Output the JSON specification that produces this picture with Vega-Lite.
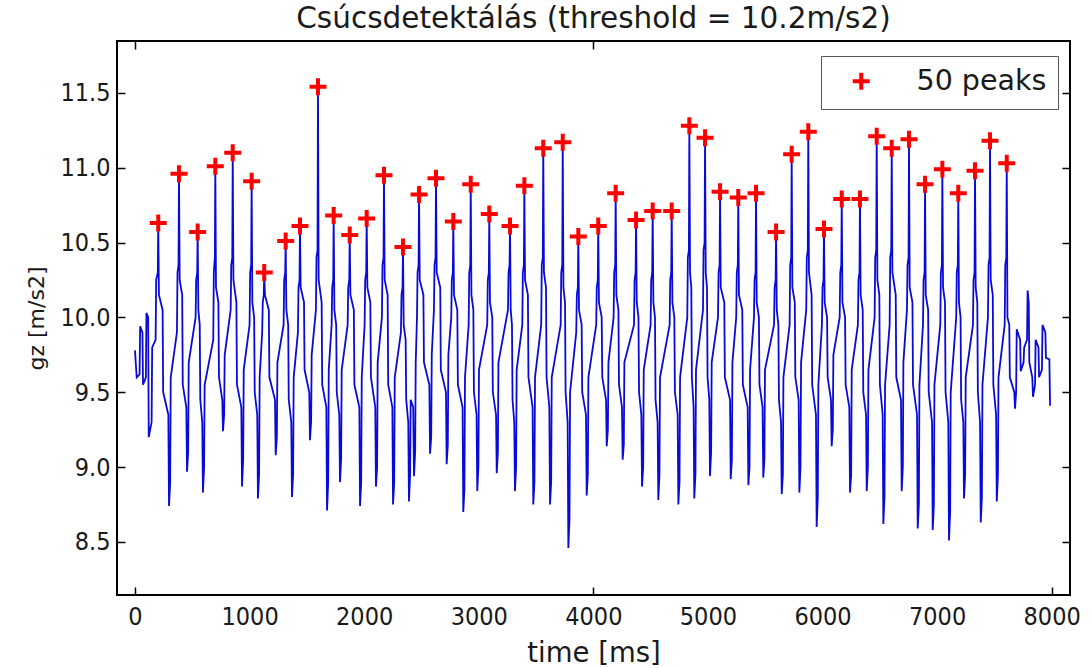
{
  "$schema": "https://vega.github.io/schema/vega-lite/v6.json",
  "width": 953,
  "height": 554,
  "autosize": {"type": "none"},
  "padding": {"left": 117, "top": 41, "right": 22, "bottom": 73},
  "background": "white",
  "title": {
    "text": "Csúcsdetektálás (threshold = 10.2m/s2)",
    "font": "DejaVu Sans",
    "fontSize": 29.5,
    "fontWeight": "normal",
    "color": "#1a1a1a",
    "anchor": "middle",
    "baseline": "alphabetic",
    "offset": -17
  },
  "config": {
    "font": "DejaVu Sans",
    "view": {"stroke": "#000000", "strokeWidth": 2}
  },
  "datasets": {
    "signal": [
      {"t": 0, "g": 9.78}, {"t": 8, "g": 9.68}, {"t": 15, "g": 9.60}, {"t": 40, "g": 9.62}, {"t": 45, "g": 9.94}, {"t": 65, "g": 9.90}, {"t": 70, "g": 9.55}, {"t": 95, "g": 9.60}, {"t": 100, "g": 10.03}, {"t": 115, "g": 10.00}, {"t": 120, "g": 9.20}, {"t": 145, "g": 9.30}, {"t": 150, "g": 9.80}, {"t": 180, "g": 9.85}, {"t": 185, "g": 10.25}, {"t": 199, "g": 10.30},
      {"t": 203, "g": 10.63}, {"t": 209, "g": 10.15}, {"t": 241, "g": 10.05}, {"t": 246, "g": 9.50}, {"t": 291, "g": 9.35}, {"t": 297, "g": 8.74}, {"t": 307, "g": 8.90}, {"t": 312, "g": 9.60}, {"t": 366, "g": 9.90}, {"t": 371, "g": 10.30}, {"t": 380, "g": 10.35},
      {"t": 384, "g": 10.96}, {"t": 390, "g": 10.25}, {"t": 412, "g": 10.15}, {"t": 417, "g": 9.55}, {"t": 448, "g": 9.40}, {"t": 454, "g": 8.97}, {"t": 464, "g": 9.10}, {"t": 469, "g": 9.70}, {"t": 529, "g": 10.00}, {"t": 534, "g": 10.25}, {"t": 543, "g": 10.30},
      {"t": 547, "g": 10.57}, {"t": 553, "g": 10.05}, {"t": 565, "g": 9.95}, {"t": 570, "g": 9.45}, {"t": 587, "g": 9.30}, {"t": 593, "g": 8.83}, {"t": 603, "g": 9.00}, {"t": 608, "g": 9.55}, {"t": 683, "g": 9.85}, {"t": 688, "g": 10.30}, {"t": 697, "g": 10.40},
      {"t": 701, "g": 11.01}, {"t": 707, "g": 10.20}, {"t": 728, "g": 10.10}, {"t": 733, "g": 9.60}, {"t": 762, "g": 9.45}, {"t": 768, "g": 9.24}, {"t": 778, "g": 9.35}, {"t": 783, "g": 9.75}, {"t": 835, "g": 10.05}, {"t": 840, "g": 10.35}, {"t": 849, "g": 10.40},
      {"t": 853, "g": 11.10}, {"t": 859, "g": 10.25}, {"t": 885, "g": 10.10}, {"t": 890, "g": 9.55}, {"t": 928, "g": 9.40}, {"t": 934, "g": 8.87}, {"t": 944, "g": 9.05}, {"t": 949, "g": 9.65}, {"t": 1000, "g": 9.95}, {"t": 1005, "g": 10.30}, {"t": 1014, "g": 10.35},
      {"t": 1018, "g": 10.91}, {"t": 1024, "g": 10.10}, {"t": 1040, "g": 10.00}, {"t": 1045, "g": 9.50}, {"t": 1067, "g": 9.35}, {"t": 1073, "g": 8.79}, {"t": 1083, "g": 8.95}, {"t": 1088, "g": 9.60}, {"t": 1110, "g": 9.90}, {"t": 1115, "g": 10.10}, {"t": 1124, "g": 10.15},
      {"t": 1128, "g": 10.30}, {"t": 1134, "g": 10.15}, {"t": 1168, "g": 10.05}, {"t": 1173, "g": 9.60}, {"t": 1222, "g": 9.45}, {"t": 1228, "g": 9.08}, {"t": 1238, "g": 9.20}, {"t": 1243, "g": 9.70}, {"t": 1297, "g": 9.95}, {"t": 1302, "g": 10.25}, {"t": 1311, "g": 10.30},
      {"t": 1315, "g": 10.51}, {"t": 1321, "g": 10.05}, {"t": 1337, "g": 9.95}, {"t": 1342, "g": 9.45}, {"t": 1364, "g": 9.30}, {"t": 1370, "g": 8.80}, {"t": 1380, "g": 8.95}, {"t": 1385, "g": 9.60}, {"t": 1422, "g": 9.90}, {"t": 1427, "g": 10.20}, {"t": 1436, "g": 10.25},
      {"t": 1440, "g": 10.61}, {"t": 1446, "g": 10.20}, {"t": 1475, "g": 10.10}, {"t": 1480, "g": 9.65}, {"t": 1521, "g": 9.50}, {"t": 1527, "g": 9.18}, {"t": 1537, "g": 9.30}, {"t": 1542, "g": 9.75}, {"t": 1579, "g": 10.05}, {"t": 1584, "g": 10.40}, {"t": 1593, "g": 10.45},
      {"t": 1597, "g": 11.54}, {"t": 1603, "g": 10.25}, {"t": 1629, "g": 10.10}, {"t": 1634, "g": 9.55}, {"t": 1670, "g": 9.40}, {"t": 1676, "g": 8.71}, {"t": 1686, "g": 8.90}, {"t": 1691, "g": 9.65}, {"t": 1716, "g": 9.95}, {"t": 1721, "g": 10.20}, {"t": 1730, "g": 10.25},
      {"t": 1734, "g": 10.68}, {"t": 1740, "g": 10.05}, {"t": 1756, "g": 9.95}, {"t": 1761, "g": 9.50}, {"t": 1783, "g": 9.35}, {"t": 1789, "g": 8.90}, {"t": 1799, "g": 9.05}, {"t": 1804, "g": 9.65}, {"t": 1856, "g": 9.95}, {"t": 1861, "g": 10.20}, {"t": 1870, "g": 10.25},
      {"t": 1874, "g": 10.55}, {"t": 1880, "g": 10.15}, {"t": 1910, "g": 10.05}, {"t": 1915, "g": 9.55}, {"t": 1958, "g": 9.40}, {"t": 1964, "g": 8.74}, {"t": 1974, "g": 8.90}, {"t": 1979, "g": 9.60}, {"t": 2004, "g": 9.95}, {"t": 2009, "g": 10.25}, {"t": 2018, "g": 10.30},
      {"t": 2022, "g": 10.66}, {"t": 2028, "g": 10.20}, {"t": 2054, "g": 10.10}, {"t": 2059, "g": 9.60}, {"t": 2097, "g": 9.40}, {"t": 2103, "g": 8.87}, {"t": 2113, "g": 9.00}, {"t": 2118, "g": 9.70}, {"t": 2155, "g": 10.00}, {"t": 2160, "g": 10.35}, {"t": 2169, "g": 10.40},
      {"t": 2173, "g": 10.95}, {"t": 2179, "g": 10.25}, {"t": 2205, "g": 10.15}, {"t": 2210, "g": 9.55}, {"t": 2246, "g": 9.40}, {"t": 2252, "g": 8.75}, {"t": 2262, "g": 8.90}, {"t": 2267, "g": 9.60}, {"t": 2321, "g": 9.90}, {"t": 2326, "g": 10.15}, {"t": 2335, "g": 10.20},
      {"t": 2339, "g": 10.47}, {"t": 2345, "g": 9.95}, {"t": 2362, "g": 9.85}, {"t": 2367, "g": 9.45}, {"t": 2385, "g": 9.30}, {"t": 2391, "g": 8.77}, {"t": 2401, "g": 8.95}, {"t": 2406, "g": 9.45}, {"t": 2428, "g": 9.40}, {"t": 2435, "g": 8.94}, {"t": 2445, "g": 9.10}, {"t": 2450, "g": 9.70}, {"t": 2461, "g": 10.00}, {"t": 2466, "g": 10.30}, {"t": 2475, "g": 10.35},
      {"t": 2479, "g": 10.82}, {"t": 2485, "g": 10.25}, {"t": 2517, "g": 10.15}, {"t": 2522, "g": 9.70}, {"t": 2569, "g": 9.55}, {"t": 2575, "g": 9.09}, {"t": 2585, "g": 9.20}, {"t": 2590, "g": 9.75}, {"t": 2609, "g": 10.05}, {"t": 2614, "g": 10.35}, {"t": 2623, "g": 10.40},
      {"t": 2627, "g": 10.93}, {"t": 2633, "g": 10.30}, {"t": 2664, "g": 10.20}, {"t": 2669, "g": 9.65}, {"t": 2714, "g": 9.50}, {"t": 2720, "g": 9.02}, {"t": 2730, "g": 9.15}, {"t": 2735, "g": 9.75}, {"t": 2760, "g": 10.00}, {"t": 2765, "g": 10.25}, {"t": 2774, "g": 10.30},
      {"t": 2778, "g": 10.64}, {"t": 2784, "g": 10.15}, {"t": 2813, "g": 10.05}, {"t": 2818, "g": 9.55}, {"t": 2859, "g": 9.40}, {"t": 2865, "g": 8.70}, {"t": 2875, "g": 8.85}, {"t": 2880, "g": 9.60}, {"t": 2912, "g": 9.95}, {"t": 2917, "g": 10.30}, {"t": 2926, "g": 10.35},
      {"t": 2930, "g": 10.89}, {"t": 2936, "g": 10.15}, {"t": 2953, "g": 10.05}, {"t": 2958, "g": 9.50}, {"t": 2981, "g": 9.35}, {"t": 2987, "g": 8.84}, {"t": 2997, "g": 9.00}, {"t": 3002, "g": 9.65}, {"t": 3074, "g": 9.95}, {"t": 3079, "g": 10.25}, {"t": 3088, "g": 10.30},
      {"t": 3092, "g": 10.69}, {"t": 3098, "g": 10.10}, {"t": 3118, "g": 10.00}, {"t": 3123, "g": 9.50}, {"t": 3151, "g": 9.35}, {"t": 3157, "g": 8.96}, {"t": 3167, "g": 9.10}, {"t": 3172, "g": 9.70}, {"t": 3255, "g": 10.05}, {"t": 3260, "g": 10.30}, {"t": 3269, "g": 10.35},
      {"t": 3273, "g": 10.61}, {"t": 3279, "g": 10.05}, {"t": 3290, "g": 9.95}, {"t": 3295, "g": 9.45}, {"t": 3310, "g": 9.30}, {"t": 3316, "g": 8.84}, {"t": 3326, "g": 9.00}, {"t": 3331, "g": 9.65}, {"t": 3380, "g": 9.95}, {"t": 3385, "g": 10.30}, {"t": 3394, "g": 10.35},
      {"t": 3398, "g": 10.88}, {"t": 3404, "g": 10.25}, {"t": 3429, "g": 10.15}, {"t": 3434, "g": 9.60}, {"t": 3470, "g": 9.40}, {"t": 3476, "g": 8.75}, {"t": 3486, "g": 8.90}, {"t": 3491, "g": 9.60}, {"t": 3545, "g": 9.95}, {"t": 3550, "g": 10.35}, {"t": 3559, "g": 10.40},
      {"t": 3563, "g": 11.13}, {"t": 3569, "g": 10.30}, {"t": 3587, "g": 10.20}, {"t": 3592, "g": 9.60}, {"t": 3616, "g": 9.40}, {"t": 3622, "g": 8.75}, {"t": 3632, "g": 8.90}, {"t": 3637, "g": 9.60}, {"t": 3715, "g": 9.95}, {"t": 3720, "g": 10.30}, {"t": 3729, "g": 10.35},
      {"t": 3733, "g": 11.17}, {"t": 3739, "g": 10.20}, {"t": 3753, "g": 10.10}, {"t": 3758, "g": 9.50}, {"t": 3776, "g": 9.30}, {"t": 3782, "g": 8.46}, {"t": 3792, "g": 8.65}, {"t": 3797, "g": 9.50}, {"t": 3851, "g": 9.90}, {"t": 3856, "g": 10.15}, {"t": 3865, "g": 10.20},
      {"t": 3869, "g": 10.54}, {"t": 3875, "g": 10.05}, {"t": 3898, "g": 9.95}, {"t": 3903, "g": 9.50}, {"t": 3936, "g": 9.35}, {"t": 3942, "g": 8.81}, {"t": 3952, "g": 8.95}, {"t": 3957, "g": 9.60}, {"t": 4025, "g": 9.95}, {"t": 4030, "g": 10.20}, {"t": 4039, "g": 10.25},
      {"t": 4043, "g": 10.61}, {"t": 4049, "g": 10.10}, {"t": 4073, "g": 10.00}, {"t": 4078, "g": 9.60}, {"t": 4111, "g": 9.45}, {"t": 4117, "g": 9.14}, {"t": 4127, "g": 9.25}, {"t": 4132, "g": 9.70}, {"t": 4177, "g": 10.00}, {"t": 4182, "g": 10.30}, {"t": 4191, "g": 10.35},
      {"t": 4195, "g": 10.83}, {"t": 4201, "g": 10.15}, {"t": 4219, "g": 10.05}, {"t": 4224, "g": 9.55}, {"t": 4250, "g": 9.40}, {"t": 4256, "g": 9.05}, {"t": 4266, "g": 9.15}, {"t": 4271, "g": 9.70}, {"t": 4355, "g": 9.95}, {"t": 4360, "g": 10.25}, {"t": 4369, "g": 10.30},
      {"t": 4373, "g": 10.65}, {"t": 4379, "g": 10.10}, {"t": 4394, "g": 10.00}, {"t": 4399, "g": 9.50}, {"t": 4419, "g": 9.35}, {"t": 4425, "g": 8.87}, {"t": 4435, "g": 9.00}, {"t": 4440, "g": 9.65}, {"t": 4500, "g": 9.95}, {"t": 4505, "g": 10.25}, {"t": 4514, "g": 10.30},
      {"t": 4518, "g": 10.71}, {"t": 4524, "g": 10.10}, {"t": 4538, "g": 10.00}, {"t": 4543, "g": 9.45}, {"t": 4561, "g": 9.30}, {"t": 4567, "g": 8.78}, {"t": 4577, "g": 8.95}, {"t": 4582, "g": 9.60}, {"t": 4666, "g": 9.95}, {"t": 4671, "g": 10.25}, {"t": 4680, "g": 10.30},
      {"t": 4684, "g": 10.71}, {"t": 4690, "g": 10.10}, {"t": 4707, "g": 10.00}, {"t": 4712, "g": 9.50}, {"t": 4736, "g": 9.35}, {"t": 4742, "g": 8.75}, {"t": 4752, "g": 8.90}, {"t": 4757, "g": 9.60}, {"t": 4820, "g": 10.00}, {"t": 4825, "g": 10.40}, {"t": 4834, "g": 10.45},
      {"t": 4838, "g": 11.28}, {"t": 4844, "g": 10.30}, {"t": 4855, "g": 10.20}, {"t": 4860, "g": 9.60}, {"t": 4875, "g": 9.40}, {"t": 4881, "g": 8.79}, {"t": 4891, "g": 8.95}, {"t": 4896, "g": 9.65}, {"t": 4957, "g": 10.05}, {"t": 4962, "g": 10.45}, {"t": 4971, "g": 10.50},
      {"t": 4975, "g": 11.20}, {"t": 4981, "g": 10.30}, {"t": 4992, "g": 10.20}, {"t": 4997, "g": 9.60}, {"t": 5012, "g": 9.45}, {"t": 5018, "g": 8.94}, {"t": 5028, "g": 9.10}, {"t": 5033, "g": 9.70}, {"t": 5088, "g": 10.00}, {"t": 5093, "g": 10.30}, {"t": 5102, "g": 10.35},
      {"t": 5106, "g": 10.84}, {"t": 5112, "g": 10.20}, {"t": 5143, "g": 10.10}, {"t": 5148, "g": 9.60}, {"t": 5193, "g": 9.45}, {"t": 5199, "g": 8.92}, {"t": 5209, "g": 9.05}, {"t": 5214, "g": 9.70}, {"t": 5247, "g": 10.00}, {"t": 5252, "g": 10.30}, {"t": 5261, "g": 10.35},
      {"t": 5265, "g": 10.80}, {"t": 5271, "g": 10.15}, {"t": 5300, "g": 10.05}, {"t": 5305, "g": 9.55}, {"t": 5347, "g": 9.40}, {"t": 5353, "g": 8.88}, {"t": 5363, "g": 9.00}, {"t": 5368, "g": 9.65}, {"t": 5402, "g": 10.00}, {"t": 5407, "g": 10.25}, {"t": 5416, "g": 10.30},
      {"t": 5420, "g": 10.83}, {"t": 5426, "g": 10.10}, {"t": 5445, "g": 10.00}, {"t": 5450, "g": 9.55}, {"t": 5477, "g": 9.40}, {"t": 5483, "g": 8.93}, {"t": 5493, "g": 9.05}, {"t": 5498, "g": 9.65}, {"t": 5577, "g": 9.95}, {"t": 5582, "g": 10.20}, {"t": 5591, "g": 10.25},
      {"t": 5595, "g": 10.57}, {"t": 5601, "g": 10.05}, {"t": 5615, "g": 9.95}, {"t": 5620, "g": 9.45}, {"t": 5638, "g": 9.30}, {"t": 5644, "g": 8.82}, {"t": 5654, "g": 8.95}, {"t": 5659, "g": 9.60}, {"t": 5713, "g": 9.95}, {"t": 5718, "g": 10.35}, {"t": 5727, "g": 10.40},
      {"t": 5731, "g": 11.09}, {"t": 5737, "g": 10.20}, {"t": 5758, "g": 10.10}, {"t": 5763, "g": 9.60}, {"t": 5792, "g": 9.45}, {"t": 5798, "g": 8.83}, {"t": 5808, "g": 9.00}, {"t": 5813, "g": 9.70}, {"t": 5858, "g": 10.05}, {"t": 5863, "g": 10.40}, {"t": 5872, "g": 10.45},
      {"t": 5876, "g": 11.24}, {"t": 5882, "g": 10.30}, {"t": 5905, "g": 10.15}, {"t": 5910, "g": 9.55}, {"t": 5943, "g": 9.35}, {"t": 5949, "g": 8.60}, {"t": 5959, "g": 8.80}, {"t": 5964, "g": 9.55}, {"t": 5995, "g": 9.95}, {"t": 6000, "g": 10.20}, {"t": 6009, "g": 10.25},
      {"t": 6013, "g": 10.59}, {"t": 6019, "g": 10.10}, {"t": 6040, "g": 10.00}, {"t": 6045, "g": 9.60}, {"t": 6074, "g": 9.45}, {"t": 6080, "g": 9.14}, {"t": 6090, "g": 9.25}, {"t": 6095, "g": 9.75}, {"t": 6150, "g": 10.00}, {"t": 6155, "g": 10.30}, {"t": 6164, "g": 10.35},
      {"t": 6168, "g": 10.79}, {"t": 6174, "g": 10.10}, {"t": 6197, "g": 10.00}, {"t": 6202, "g": 9.55}, {"t": 6234, "g": 9.40}, {"t": 6240, "g": 8.83}, {"t": 6250, "g": 8.95}, {"t": 6255, "g": 9.65}, {"t": 6309, "g": 9.95}, {"t": 6314, "g": 10.25}, {"t": 6323, "g": 10.30},
      {"t": 6327, "g": 10.79}, {"t": 6333, "g": 10.15}, {"t": 6351, "g": 10.05}, {"t": 6356, "g": 9.50}, {"t": 6380, "g": 9.35}, {"t": 6386, "g": 8.84}, {"t": 6396, "g": 9.00}, {"t": 6401, "g": 9.65}, {"t": 6455, "g": 10.00}, {"t": 6460, "g": 10.40}, {"t": 6469, "g": 10.45},
      {"t": 6473, "g": 11.21}, {"t": 6479, "g": 10.25}, {"t": 6496, "g": 10.15}, {"t": 6501, "g": 9.55}, {"t": 6525, "g": 9.35}, {"t": 6531, "g": 8.62}, {"t": 6541, "g": 8.80}, {"t": 6546, "g": 9.55}, {"t": 6586, "g": 9.95}, {"t": 6591, "g": 10.40}, {"t": 6600, "g": 10.45},
      {"t": 6604, "g": 11.13}, {"t": 6610, "g": 10.30}, {"t": 6639, "g": 10.15}, {"t": 6644, "g": 9.60}, {"t": 6685, "g": 9.45}, {"t": 6691, "g": 8.84}, {"t": 6701, "g": 9.00}, {"t": 6706, "g": 9.70}, {"t": 6737, "g": 10.05}, {"t": 6742, "g": 10.35}, {"t": 6751, "g": 10.40},
      {"t": 6755, "g": 11.19}, {"t": 6761, "g": 10.20}, {"t": 6785, "g": 10.10}, {"t": 6790, "g": 9.55}, {"t": 6825, "g": 9.35}, {"t": 6831, "g": 8.59}, {"t": 6841, "g": 8.75}, {"t": 6846, "g": 9.55}, {"t": 6877, "g": 9.95}, {"t": 6882, "g": 10.25}, {"t": 6891, "g": 10.30},
      {"t": 6895, "g": 10.89}, {"t": 6901, "g": 10.15}, {"t": 6922, "g": 10.05}, {"t": 6927, "g": 9.50}, {"t": 6956, "g": 9.30}, {"t": 6962, "g": 8.58}, {"t": 6972, "g": 8.75}, {"t": 6977, "g": 9.55}, {"t": 7028, "g": 9.95}, {"t": 7033, "g": 10.30}, {"t": 7042, "g": 10.35},
      {"t": 7046, "g": 10.99}, {"t": 7052, "g": 10.20}, {"t": 7069, "g": 10.10}, {"t": 7074, "g": 9.50}, {"t": 7098, "g": 9.30}, {"t": 7104, "g": 8.51}, {"t": 7114, "g": 8.70}, {"t": 7119, "g": 9.50}, {"t": 7167, "g": 10.00}, {"t": 7172, "g": 10.30}, {"t": 7181, "g": 10.35},
      {"t": 7185, "g": 10.83}, {"t": 7191, "g": 10.10}, {"t": 7205, "g": 10.00}, {"t": 7210, "g": 9.45}, {"t": 7229, "g": 9.30}, {"t": 7235, "g": 8.79}, {"t": 7245, "g": 8.95}, {"t": 7250, "g": 9.60}, {"t": 7313, "g": 9.95}, {"t": 7318, "g": 10.25}, {"t": 7327, "g": 10.30},
      {"t": 7331, "g": 10.98}, {"t": 7337, "g": 10.20}, {"t": 7351, "g": 10.10}, {"t": 7356, "g": 9.50}, {"t": 7375, "g": 9.30}, {"t": 7381, "g": 8.63}, {"t": 7391, "g": 8.80}, {"t": 7396, "g": 9.55}, {"t": 7444, "g": 10.00}, {"t": 7449, "g": 10.35}, {"t": 7458, "g": 10.40},
      {"t": 7462, "g": 11.18}, {"t": 7468, "g": 10.25}, {"t": 7486, "g": 10.15}, {"t": 7491, "g": 9.55}, {"t": 7515, "g": 9.35}, {"t": 7521, "g": 8.77}, {"t": 7531, "g": 8.95}, {"t": 7536, "g": 9.60}, {"t": 7590, "g": 9.95}, {"t": 7595, "g": 10.35}, {"t": 7604, "g": 10.40},
      {"t": 7608, "g": 11.03}, {"t": 7614, "g": 10.00}, {"t": 7630, "g": 9.95}, {"t": 7635, "g": 9.60}, {"t": 7674, "g": 9.50}, {"t": 7680, "g": 9.39}, {"t": 7690, "g": 9.50}, {"t": 7695, "g": 9.92}, {"t": 7725, "g": 9.85}, {"t": 7730, "g": 9.64}, {"t": 7755, "g": 9.70}, {"t": 7760, "g": 9.80}, {"t": 7785, "g": 9.85}, {"t": 7790, "g": 10.18}, {"t": 7800, "g": 10.10}, {"t": 7805, "g": 9.70}, {"t": 7831, "g": 9.60}, {"t": 7837, "g": 9.47}, {"t": 7855, "g": 9.55}, {"t": 7860, "g": 9.85}, {"t": 7885, "g": 9.80}, {"t": 7890, "g": 9.60}, {"t": 7915, "g": 9.65}, {"t": 7920, "g": 9.95}, {"t": 7945, "g": 9.90}, {"t": 7950, "g": 9.73}, {"t": 7980, "g": 9.72}, {"t": 7986, "g": 9.41}
    ],
    "peaks": [
      {"t": 203, "g": 10.63, "label": "50 peaks"}, {"t": 384, "g": 10.96, "label": "50 peaks"}, {"t": 547, "g": 10.57, "label": "50 peaks"}, {"t": 701, "g": 11.01, "label": "50 peaks"}, {"t": 853, "g": 11.10, "label": "50 peaks"},
      {"t": 1018, "g": 10.91, "label": "50 peaks"}, {"t": 1128, "g": 10.30, "label": "50 peaks"}, {"t": 1315, "g": 10.51, "label": "50 peaks"}, {"t": 1440, "g": 10.61, "label": "50 peaks"}, {"t": 1597, "g": 11.54, "label": "50 peaks"},
      {"t": 1734, "g": 10.68, "label": "50 peaks"}, {"t": 1874, "g": 10.55, "label": "50 peaks"}, {"t": 2022, "g": 10.66, "label": "50 peaks"}, {"t": 2173, "g": 10.95, "label": "50 peaks"}, {"t": 2339, "g": 10.47, "label": "50 peaks"},
      {"t": 2479, "g": 10.82, "label": "50 peaks"}, {"t": 2627, "g": 10.93, "label": "50 peaks"}, {"t": 2778, "g": 10.64, "label": "50 peaks"}, {"t": 2930, "g": 10.89, "label": "50 peaks"}, {"t": 3092, "g": 10.69, "label": "50 peaks"},
      {"t": 3273, "g": 10.61, "label": "50 peaks"}, {"t": 3398, "g": 10.88, "label": "50 peaks"}, {"t": 3563, "g": 11.13, "label": "50 peaks"}, {"t": 3733, "g": 11.17, "label": "50 peaks"}, {"t": 3869, "g": 10.54, "label": "50 peaks"},
      {"t": 4043, "g": 10.61, "label": "50 peaks"}, {"t": 4195, "g": 10.83, "label": "50 peaks"}, {"t": 4373, "g": 10.65, "label": "50 peaks"}, {"t": 4518, "g": 10.71, "label": "50 peaks"}, {"t": 4684, "g": 10.71, "label": "50 peaks"},
      {"t": 4838, "g": 11.28, "label": "50 peaks"}, {"t": 4975, "g": 11.20, "label": "50 peaks"}, {"t": 5106, "g": 10.84, "label": "50 peaks"}, {"t": 5265, "g": 10.80, "label": "50 peaks"}, {"t": 5420, "g": 10.83, "label": "50 peaks"},
      {"t": 5595, "g": 10.57, "label": "50 peaks"}, {"t": 5731, "g": 11.09, "label": "50 peaks"}, {"t": 5876, "g": 11.24, "label": "50 peaks"}, {"t": 6013, "g": 10.59, "label": "50 peaks"}, {"t": 6168, "g": 10.79, "label": "50 peaks"},
      {"t": 6327, "g": 10.79, "label": "50 peaks"}, {"t": 6473, "g": 11.21, "label": "50 peaks"}, {"t": 6604, "g": 11.13, "label": "50 peaks"}, {"t": 6755, "g": 11.19, "label": "50 peaks"}, {"t": 6895, "g": 10.89, "label": "50 peaks"},
      {"t": 7046, "g": 10.99, "label": "50 peaks"}, {"t": 7185, "g": 10.83, "label": "50 peaks"}, {"t": 7331, "g": 10.98, "label": "50 peaks"}, {"t": 7462, "g": 11.18, "label": "50 peaks"}, {"t": 7608, "g": 11.03, "label": "50 peaks"}
    ]
  },
  "resolve": {"axis": {"x": "independent", "y": "independent"}},
  "layer": [
    {
      "data": {"name": "signal"},
      "mark": {"type": "line", "color": "#0a0ad8", "strokeWidth": 1.8, "clip": true},
      "encoding": {
        "x": {
          "field": "t", "type": "quantitative",
          "scale": {"domain": [-157, 8160], "nice": false, "zero": false},
          "axis": {
            "orient": "bottom",
            "values": [0, 1000, 2000, 3000, 4000, 5000, 6000, 7000, 8000],
            "format": "d",
            "grid": false,
            "domain": false,
            "tickSize": -8,
            "tickColor": "#000000",
            "tickWidth": 1.5,
            "tickOpacity": {"condition": {"test": "datum.value % 4000 === 0", "value": 1}, "value": 0},
            "labelFont": "DejaVu Sans Condensed, Liberation Sans Narrow, DejaVu Sans",
            "labelFontSize": 25,
            "labelColor": "#1a1a1a",
            "labelPadding": 17,
            "title": "time [ms]",
            "titleFont": "DejaVu Sans",
            "titleFontSize": 27.5,
            "titleFontWeight": "normal",
            "titleColor": "#1a1a1a",
            "titlePadding": 10
          }
        },
        "y": {
          "field": "g", "type": "quantitative",
          "scale": {"domain": [8.146, 11.846], "nice": false, "zero": false},
          "axis": {
            "orient": "left",
            "values": [8.5, 9.0, 9.5, 10.0, 10.5, 11.0, 11.5],
            "format": ".1f",
            "grid": false,
            "domain": false,
            "tickSize": -8,
            "tickColor": "#000000",
            "tickWidth": 1.5,
            "labelFont": "DejaVu Sans Condensed, Liberation Sans Narrow, DejaVu Sans",
            "labelFontSize": 25,
            "labelColor": "#1a1a1a",
            "labelPadding": 15,
            "title": "gz [m/s2]",
            "titleFont": "DejaVu Sans",
            "titleFontSize": 22,
            "titleFontWeight": "normal",
            "titleColor": "#1a1a1a",
            "titlePadding": 11
          }
        }
      }
    },
    {
      "data": {"name": "peaks"},
      "mark": {
        "type": "point",
        "shape": "M-1,0L1,0M0,-1L0,1",
        "filled": false,
        "size": 289,
        "strokeWidth": 4,
        "opacity": 1
      },
      "encoding": {
        "x": {
          "field": "t", "type": "quantitative",
          "axis": {
            "orient": "top", "labels": false, "title": null, "grid": false, "domain": false,
            "values": [0, 4000], "tickSize": -8, "tickColor": "#000000", "tickWidth": 1.5
          }
        },
        "y": {
          "field": "g", "type": "quantitative",
          "axis": {
            "orient": "right", "labels": false, "title": null, "grid": false, "domain": false,
            "values": [8.5, 9.0, 9.5, 10.0, 10.5, 11.0, 11.5], "tickSize": -8, "tickColor": "#000000", "tickWidth": 1.5
          }
        },
        "stroke": {
          "field": "label", "type": "nominal",
          "scale": {"range": ["#ff0000"]},
          "legend": {
            "title": null,
            "orient": "none",
            "legendX": 704,
            "legendY": 15,
            "padding": 11,
            "strokeColor": "#555555",
            "fillColor": "white",
            "symbolType": "M-1,0L1,0M0,-1L0,1",
            "symbolSize": 289,
            "symbolStrokeWidth": 4,
            "symbolStrokeColor": "#ff0000",
            "symbolFillColor": "transparent",
            "symbolOffset": 15,
            "labelOffset": 41,
            "labelFont": "DejaVu Sans",
            "labelFontSize": 28.5,
            "labelColor": "#1a1a1a"
          }
        }
      }
    }
  ]
}
